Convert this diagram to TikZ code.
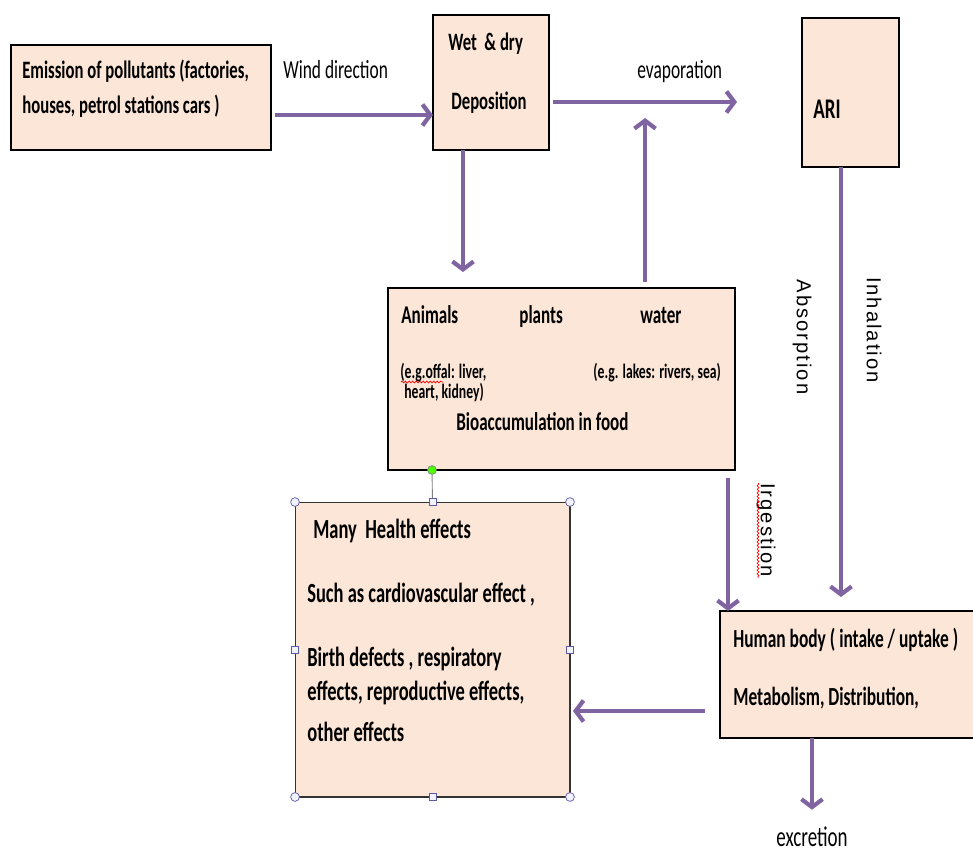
\documentclass[tikz,border=0pt]{standalone}
\usepackage{fontspec}
\usepackage{graphicx}
\setmainfont{Carlito}
\newfontfamily\rotfont[LetterSpace=10]{Liberation Sans}
\usetikzlibrary{positioning,arrows.meta,decorations.pathmorphing}
\definecolor{peach}{RGB}{252,230,215}
\definecolor{flowpurple}{RGB}{128,100,162}
\newcommand\tall[1]{\scalebox{1}[1.5]{#1}}
\tikzset{
	box/.style={draw=black, line width=1pt, fill=peach, inner sep=0pt, outer sep=0pt},
	flow/.style={draw=flowpurple, line width=2.4pt, -{Straight Barb[length=4.5pt,width=12pt]}},
	txt/.style={anchor=base west, inner sep=0pt, font=\bfseries\fontsize{9.5}{11}\selectfont},
	bigtxt/.style={txt, font=\bfseries\fontsize{10.5}{12}\selectfont},
	small/.style={anchor=base west, inner sep=0pt, font=\bfseries\fontsize{7.8}{9}\selectfont},
	plain/.style={anchor=base west, inner sep=0pt, font=\fontsize{9.9}{11}\selectfont},
	sidelabel/.style={rotate=-90, inner sep=0pt, font=\rotfont\fontsize{11.5}{13}\selectfont},
	handc/.style={circle, draw=gray!70!blue, fill=blue!5, line width=0.4pt, minimum size=5pt, inner sep=0pt},
	hands/.style={rectangle, draw=gray!70!blue, fill=blue!5, line width=0.4pt, minimum size=4pt, inner sep=0pt},
	spell/.style={draw=red, line width=0.4pt, decorate, decoration={snake, amplitude=0.5pt, segment length=2pt}}
}
\begin{document}
\begin{tikzpicture}[x=0.02cm,y=-0.02cm]
	\useasboundingbox[fill=white] (0,0) rectangle (973,852);
	%% boxes
	\node[box, minimum width=5.2cm, minimum height=2.1cm] (emis) at (141,97.5) {};
	\node[box, minimum width=2.32cm, minimum height=2.7cm] (wet) at (491,82.5) {};
	\node[box, minimum width=1.94cm, minimum height=2.98cm] (ari) at (850.5,92.5) {};
	\node[box, minimum width=6.94cm, minimum height=3.64cm] (food) at (561.5,379) {};
	\node[box, draw=black!80, line width=0.6pt, minimum width=5.5cm, minimum height=5.9cm] (health) at (432.5,649.5) {};
	\node[box, minimum width=5.2cm, minimum height=2.54cm] (body) at (850,674.5) {};
	%% texts in boxes
	\node[txt] (emis1) at (22,78) {\tall{Emission of pollutants (factories,}};
	\node[txt] (emis2) at (22,113) {\tall{houses, petrol stations cars )}};
	\node[txt] (wet1) at (448,51) {\tall{Wet\ \ \& dry}};
	\node[txt] (wet2) at (451,109) {\tall{Deposition}};
	\node[txt, font=\bfseries\fontsize{10.8}{12}\selectfont] (ari1) at (813,118) {\tall{ARI}};
	\node[txt, font=\bfseries\fontsize{9.7}{11}\selectfont] (anim) at (401,323) {\tall{Animals}};
	\node[txt, font=\bfseries\fontsize{9.7}{11}\selectfont] (plant) at (519,323) {\tall{plants}};
	\node[txt, font=\bfseries\fontsize{9.7}{11}\selectfont] (water) at (640,323) {\tall{water}};
	\node[small] (offal1) at (400,378) {\tall{(e.g.offal: liver,}};
	\node[small] (offal2) at (404,398) {\tall{heart, kidney)}};
	\node[small] (lakes) at (593,378) {\tall{(e.g. lakes: rivers, sea)}};
	\node[txt, font=\bfseries\fontsize{9.7}{11}\selectfont] (bioacc) at (456,430) {\tall{Bioaccumulation in food}};
	\node[bigtxt] (he1) at (313,538) {\tall{Many\ \ Health effects}};
	\node[bigtxt] (he2) at (307,602) {\tall{Such as cardiovascular effect ,}};
	\node[bigtxt] (he3) at (307,666) {\tall{Birth defects , respiratory}};
	\node[bigtxt] (he4) at (307,700) {\tall{effects, reproductive effects,}};
	\node[bigtxt] (he5) at (307,741) {\tall{other effects}};
	\node[txt, font=\bfseries\fontsize{9.9}{11}\selectfont] (hb1) at (733,647) {\tall{Human body ( intake / uptake )}};
	\node[txt, font=\bfseries\fontsize{9.9}{11}\selectfont] (hb2) at (733,705) {\tall{Metabolism, Distribution,}};
	%% labels on the arrows
	\node[plain] (wind) at (283,78) {\tall{Wind direction}};
	\node[plain] (evlab) at (637,78) {\tall{evaporation}};
	\node[plain, anchor=center, font=\fontsize{10.8}{12}\selectfont] (excr) at (812,837) {\tall{excretion}};
	\node[sidelabel] (absorb) at (802,337) {Absorption};
	\node[sidelabel] (inhal) at (874,330) {Inhalation};
	\node[sidelabel] (ingest) at (766,530) {Irgestion};
	\coordinate (evap) at (737,102);
	% spell check marks
	\draw[spell] (401,382) -- (443,382);
	\draw[spell] (758,483) -- (758,578);
	%% selection handles of the health box
	\node[circle, draw=gray, fill=green!60!lime, line width=0.4pt, minimum size=5pt, inner sep=0pt] (rot) at (432,470) {};
	\draw[gray, line width=0.5pt] (rot) -- (health.north);
	\foreach \a/\n in {north west/1, north east/2, south west/3, south east/4}
		\node[handc] (hc\n) at (health.\a) {};
	\foreach \a/\n in {north/1, south/2, west/3, east/4}
		\node[hands] (hs\n) at (health.\a) {};
	%% arrows
	\draw[flow, shorten <=0.08cm] (emis.east |- 0,115) -- (wet.west |- 0,115);
	\draw[flow, shorten <=0.08cm] (wet.east |- evap) -- (evap);
	\draw[flow, shorten >=0.32cm] (wet.south -| 463,0) -- (food.north -| 463,0);
	\draw[flow, shorten <=0.12cm, shorten >=0.32cm] (food.north -| 645,0) -- (evap -| 645,0);
	\draw[flow, shorten >=0.28cm] (ari.south -| 841,0) -- (body.north -| 841,0);
	\draw[flow, shorten <=0.16cm] (food.south -| 728,0) -- (body.north -| 728,0);
	\draw[flow, shorten <=0.3cm, shorten >=0.06cm] (body.west |- 0,711) -- (health.east |- 0,711);
	\draw[flow, shorten >=0.1cm] (body.south -| 812,0) -- ([yshift=0.24cm]excr.north);
\end{tikzpicture}
\end{document}
